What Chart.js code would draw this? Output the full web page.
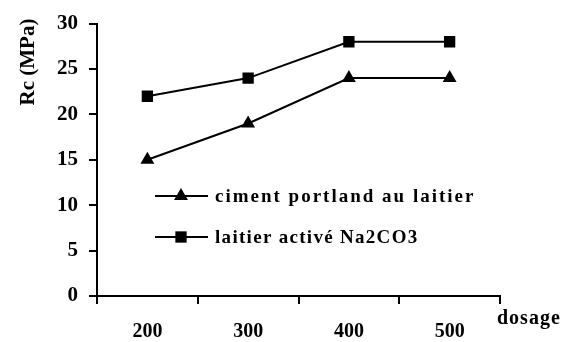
<!DOCTYPE html>
<html>
<head>
<meta charset="utf-8">
<script src="https://cdn.jsdelivr.net/npm/chart.js@4/dist/chart.umd.min.js"></script>
<style>
  html, body { margin: 0; padding: 0; background: #fff; }
  #wrap { width: 565px; height: 342px; }
</style>
</head>
<body>
<div id="wrap"><canvas id="chart"></canvas></div>
<script>
const dosages = ['200', '300', '400', '500'];
const cimentPortland = [15, 19, 24, 24];
const laitierActive = [22, 24, 28, 28];
const seriesNames = ['ciment portland au laitier', 'laitier activé Na2CO3'];
const legendSpacing = ['2px', '1.3px'];
const yTicks = [0, 5, 10, 15, 20, 25, 30];

const serif = "'Liberation Serif', 'Times New Roman', serif";

// draws the axis titles and the legend inside the plot
const extras = {
    id: 'extras',
    afterDraw(chart) {
        const ctx = chart.ctx;
        ctx.save();
        ctx.fillStyle = '#000';
        ctx.font = 'bold 21px ' + serif;

        // y title, rotated, near the top
        ctx.save();
        ctx.translate(34, 62);
        ctx.rotate(-Math.PI / 2);
        ctx.textAlign = 'center';
        ctx.textBaseline = 'alphabetic';
        ctx.fillText('Rc (MPa)', 0, 0);
        ctx.restore();

        // x title
        ctx.font = 'bold 20px ' + serif;
        ctx.letterSpacing = '1px';
        ctx.textAlign = 'left';
        ctx.fillText('dosage', 497, 324);

        // legend
        const rows = [196, 237];
        chart.data.datasets.forEach((ds, i) => {
            const y = rows[i];
            ctx.strokeStyle = '#000';
            ctx.lineWidth = 2;
            ctx.beginPath();
            ctx.moveTo(155, y);
            ctx.lineTo(208, y);
            ctx.stroke();
            Chart.helpers.drawPoint(ctx, {
                pointStyle: ds.pointStyle,
                radius: ds.pointRadius,
                borderWidth: 0
            }, 181, y);
            ctx.font = 'bold 19px ' + serif;
            ctx.letterSpacing = legendSpacing[i];
            ctx.textBaseline = 'middle';
            ctx.fillText(seriesNames[i], 215, y + 1);
        });
        ctx.restore();
    }
};

new Chart(document.getElementById('chart'), {
    type: 'line',
    data: {
        labels: dosages,
        datasets: [
            {
                label: seriesNames[0],
                data: cimentPortland,
                borderColor: '#000',
                backgroundColor: '#000',
                borderWidth: 2,
                pointStyle: 'triangle',
                pointRadius: 8,
                pointBorderWidth: 0,
                tension: 0
            },
            {
                label: seriesNames[1],
                data: laitierActive,
                borderColor: '#000',
                backgroundColor: '#000',
                borderWidth: 2,
                pointStyle: 'rect',
                pointRadius: 8,
                pointBorderWidth: 0,
                tension: 0
            }
        ]
    },
    options: {
        responsive: true,
        maintainAspectRatio: false,
        animation: false,
        layout: { padding: { left: 0, right: 65, top: 23, bottom: 0 } },
        plugins: {
            legend: { display: false },
            tooltip: { enabled: false }
        },
        scales: {
            x: {
                offset: true,
                grid: { offset: true, drawOnChartArea: false, drawTicks: true, tickLength: 8, color: '#000', lineWidth: 2 },
                border: { display: true, color: '#000', width: 2 },
                ticks: { color: '#000', font: { family: serif, size: 20, weight: 'bold' }, padding: 16, maxRotation: 0 },
                afterFit(scale) { scale.height = 46; }
            },
            y: {
                min: 0,
                max: 30,
                afterBuildTicks(scale) { scale.ticks = yTicks.map(v => ({ value: v })); },
                grid: { drawOnChartArea: false, drawTicks: true, tickLength: 8, color: '#000', lineWidth: 2 },
                border: { display: true, color: '#000', width: 2 },
                ticks: { color: '#000', font: { family: serif, size: 21, weight: 'bold' }, padding: 11 },
                afterFit(scale) { scale.width = 97; }
            }
        }
    },
    plugins: [extras]
});
</script>
</body>
</html>
